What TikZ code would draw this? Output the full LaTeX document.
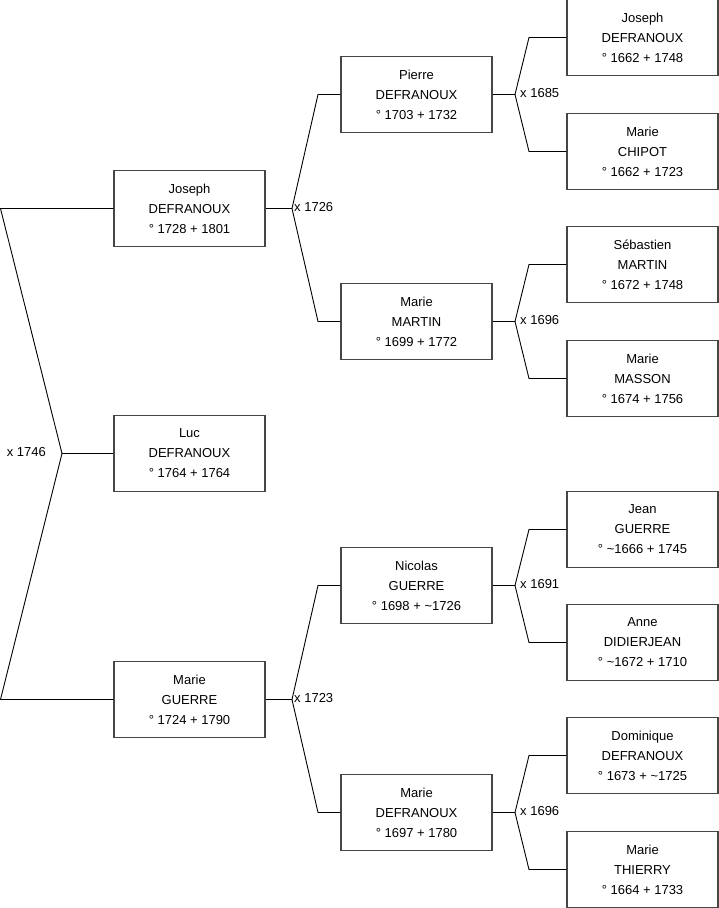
\documentclass[tikz,border=0pt]{standalone}
\usepackage{fontspec}
\setmainfont{Liberation Sans}
\definecolor{boxline}{RGB}{70,70,70}
\begin{document}
\begin{tikzpicture}[x=1pt,y=-1pt,
  person/.style={draw=boxline, line width=1.1pt, minimum width=151pt, minimum height=76pt,
    align=center, inner sep=0pt, font=\fontsize{13}{20}\selectfont},
  link/.style={draw=black, line width=0.9pt},
  marr/.style={font=\fontsize{13}{15}\selectfont, inner sep=0pt}]
\useasboundingbox (0,0) rectangle (719,908);
% generation 1
\node[person] (j1) at (189.5,208.5) {Joseph\\DEFRANOUX\\° 1728 + 1801};
\node[person] (luc) at (189.5,453.5) {Luc\\DEFRANOUX\\° 1764 + 1764};
\node[person] (m1) at (189.5,699.5) {Marie\\GUERRE\\° 1724 + 1790};
% generation 2
\node[person] (p2) at (416.5,94.5) {Pierre\\DEFRANOUX\\° 1703 + 1732};
\node[person] (mm2) at (416.5,321.5) {Marie\\MARTIN\\° 1699 + 1772};
\node[person] (n2) at (416.5,585.5) {Nicolas\\GUERRE\\° 1698 + \textasciitilde1726};
\node[person] (md2) at (416.5,812.5) {Marie\\DEFRANOUX\\° 1697 + 1780};
% generation 3
\node[person] (j3) at (642.5,37.5) {Joseph\\DEFRANOUX\\° 1662 + 1748};
\node[person] (mc3) at (642.5,151.5) {Marie\\CHIPOT\\° 1662 + 1723};
\node[person] (s3) at (642.5,264.5) {Sébastien\\MARTIN\\° 1672 + 1748};
\node[person] (mm3) at (642.5,378.5) {Marie\\MASSON\\° 1674 + 1756};
\node[person] (je3) at (642.5,529.5) {Jean\\GUERRE\\° \textasciitilde1666 + 1745};
\node[person] (a3) at (642.5,642.5) {Anne\\DIDIERJEAN\\° \textasciitilde1672 + 1710};
\node[person] (d3) at (642.5,755.5) {Dominique\\DEFRANOUX\\° 1673 + \textasciitilde1725};
\node[person] (mt3) at (642.5,869.5) {Marie\\THIERRY\\° 1664 + 1733};
% generation 1 marriage (Luc's parents)
\coordinate (a1) at (0.5,208.5);
\coordinate (b1) at (0.5,699.5);
\coordinate (c1) at (62,453.5);
\draw[link] (j1.west) -- (a1) -- (c1) -- (b1) -- (m1.west);
\draw[link] (c1) -- (luc.west);
\node[marr, anchor=east] (x1746) at (46,452) {x 1746};
% Joseph's parents
\coordinate (cj) at (292,208.5);
\coordinate (cj1) at (318,94.5);
\coordinate (cj2) at (318,321.5);
\draw[link] (j1.east) -- (cj);
\draw[link] (p2.west) -- (cj1) -- (cj) -- (cj2) -- (mm2.west);
\node[marr, anchor=west] (x1726) at (294,207) {x 1726};
% Marie Guerre's parents
\coordinate (cm) at (292,699.5);
\coordinate (cm1) at (318,585.5);
\coordinate (cm2) at (318,812.5);
\draw[link] (m1.east) -- (cm);
\draw[link] (n2.west) -- (cm1) -- (cm) -- (cm2) -- (md2.west);
\node[marr, anchor=west] (x1723) at (294,698) {x 1723};
% Pierre's parents
\coordinate (cp) at (515,94.5);
\coordinate (cp1) at (529,37.5);
\coordinate (cp2) at (529,151.5);
\draw[link] (p2.east) -- (cp);
\draw[link] (j3.west) -- (cp1) -- (cp) -- (cp2) -- (mc3.west);
\node[marr, anchor=west] (x1685) at (520,93.5) {x 1685};
% Marie Martin's parents
\coordinate (cmm) at (515,321.5);
\coordinate (cmm1) at (529,264.5);
\coordinate (cmm2) at (529,378.5);
\draw[link] (mm2.east) -- (cmm);
\draw[link] (s3.west) -- (cmm1) -- (cmm) -- (cmm2) -- (mm3.west);
\node[marr, anchor=west] (x1696a) at (520,320.5) {x 1696};
% Nicolas's parents
\coordinate (cn) at (515,585.5);
\coordinate (cn1) at (529,529.5);
\coordinate (cn2) at (529,642.5);
\draw[link] (n2.east) -- (cn);
\draw[link] (je3.west) -- (cn1) -- (cn) -- (cn2) -- (a3.west);
\node[marr, anchor=west] (x1691) at (520,584.5) {x 1691};
% Marie Defranoux's parents
\coordinate (cd) at (515,812.5);
\coordinate (cd1) at (529,755.5);
\coordinate (cd2) at (529,869.5);
\draw[link] (md2.east) -- (cd);
\draw[link] (d3.west) -- (cd1) -- (cd) -- (cd2) -- (mt3.west);
\node[marr, anchor=west] (x1696b) at (520,811.5) {x 1696};
\end{tikzpicture}
\end{document}
